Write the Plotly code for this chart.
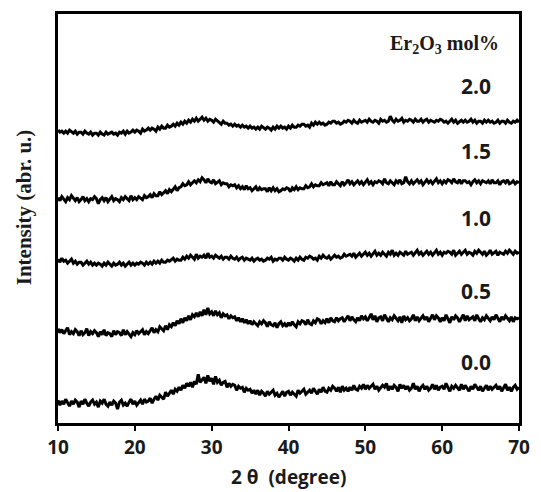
import plotly.graph_objects as go

# 2-theta grid (degrees), 0.25 deg step from 10 to 70
two_theta = [10 + 0.25 * i for i in range(241)]

sample_labels = ["0.0", "0.5", "1.0", "1.5", "2.0"]
stack_offsets = [0, 70, 140, 200, 270]

int_00 = [
    21, 16, 20, 17, 22, 18, 15, 20, 17, 21, 19, 14, 20, 17, 22, 18, 15, 19, 21, 17,
    19, 14, 20, 18, 22, 17, 15, 19, 16, 20, 18, 12, 19, 21, 16, 18, 15, 19, 22, 17,
    20, 16, 19, 21, 17, 22, 19, 20, 23, 18, 22, 25, 21, 26, 24, 22, 29, 25, 28, 31,
    27, 32, 30, 34, 31, 36, 33, 38, 35, 39, 34, 40, 37, 47, 39, 42, 44, 38, 46, 40,
    43, 37, 45, 39, 41, 36, 39, 40, 34, 38, 35, 37, 36, 31, 35, 33, 34, 29, 33, 31,
    32, 28, 31, 27, 31, 26, 30, 28, 25, 30, 27, 29, 31, 26, 28, 24, 27, 30, 25, 29,
    30, 26, 29, 27, 25, 31, 28, 30, 32, 27, 29, 31, 28, 33, 30, 27, 32, 29, 34, 30,
    29, 33, 31, 35, 33, 30, 34, 29, 35, 31, 33, 30, 34, 31, 36, 32, 31, 35, 33, 37,
    32, 36, 33, 35, 37, 32, 35, 31, 33, 36, 34, 38, 31, 35, 32, 36, 34, 30, 37, 33,
    36, 32, 35, 31, 33, 38, 32, 35, 30, 34, 36, 32, 35, 31, 33, 37, 32, 36, 31, 34,
    35, 32, 38, 33, 30, 35, 33, 36, 34, 31, 37, 32, 36, 33, 30, 35, 32, 37, 34, 31,
    35, 30, 33, 36, 31, 35, 32, 34, 36, 32, 35, 30, 33, 37, 31, 34, 30, 34, 36, 32,
    34,
]

int_05 = [
    23, 19, 22, 18, 21, 24, 17, 20, 18, 22, 20, 16, 21, 17, 19, 23, 16, 20, 18, 21,
    19, 15, 20, 17, 22, 16, 19, 18, 15, 21, 17, 20, 19, 16, 22, 17, 20, 18, 15, 19,
    17, 21, 18, 20, 22, 17, 20, 18, 21, 24, 19, 22, 20, 25, 23, 21, 26, 22, 27, 25,
    29, 26, 31, 28, 33, 29, 34, 31, 36, 32, 37, 35, 39, 35, 40, 36, 42, 37, 44, 38,
    40, 36, 41, 37, 39, 34, 38, 36, 37, 33, 36, 34, 35, 31, 34, 30, 33, 29, 32, 28,
    31, 27, 30, 28, 26, 30, 28, 31, 29, 25, 30, 27, 26, 29, 24, 28, 30, 26, 28, 25,
    29, 26, 30, 27, 25, 30, 28, 31, 30, 27, 32, 28, 27, 31, 29, 33, 32, 28, 31, 29,
    33, 29, 34, 31, 30, 34, 31, 33, 34, 30, 33, 36, 31, 35, 32, 30, 34, 31, 36, 33,
    35, 31, 34, 38, 32, 36, 30, 34, 35, 31, 37, 33, 30, 34, 32, 36, 34, 31, 35, 29,
    36, 32, 34, 31, 33, 37, 31, 35, 31, 34, 36, 32, 35, 30, 33, 37, 32, 36, 34, 30,
    34, 31, 37, 33, 29, 35, 32, 36, 34, 30, 33, 37, 31, 36, 32, 34, 35, 31, 37, 33,
    30, 34, 32, 36, 34, 31, 35, 32, 37, 33, 30, 35, 32, 36, 33, 31, 35, 30, 34, 33,
    34,
]

int_10 = [
    23, 20, 24, 21, 22, 19, 21, 23, 19, 21, 18, 20, 20, 17, 19, 21, 18, 20, 17, 19,
    17, 19, 18, 16, 19, 17, 20, 18, 16, 19, 17, 18, 20, 17, 19, 16, 18, 20, 17, 19,
    17, 19, 18, 20, 19, 17, 20, 18, 20, 18, 21, 19, 21, 19, 22, 20, 20, 22, 21, 23,
    24, 21, 23, 22, 22, 25, 23, 26, 24, 27, 25, 23, 28, 24, 26, 25, 27, 24, 29, 25,
    26, 24, 27, 25, 24, 26, 23, 25, 25, 23, 26, 24, 23, 25, 22, 24, 25, 22, 24, 23,
    22, 24, 21, 23, 24, 22, 23, 21, 22, 24, 23, 25, 21, 23, 22, 24, 24, 22, 25, 23,
    22, 24, 23, 21, 24, 22, 25, 23, 22, 25, 24, 26, 25, 23, 24, 22, 26, 24, 27, 25,
    24, 26, 23, 25, 27, 25, 26, 24, 25, 28, 26, 27, 28, 26, 29, 25, 27, 29, 26, 28,
    30, 27, 29, 26, 28, 31, 27, 29, 27, 30, 28, 26, 30, 28, 32, 27, 29, 27, 30, 28,
    27, 31, 28, 29, 30, 27, 29, 32, 28, 30, 27, 29, 31, 28, 30, 27, 29, 32, 28, 30,
    27, 30, 29, 31, 30, 28, 32, 27, 29, 31, 28, 30, 32, 28, 30, 29, 27, 31, 29, 32,
    30, 28, 31, 27, 29, 32, 28, 30, 31, 27, 30, 29, 28, 31, 29, 32, 30, 28, 31, 29,
    30,
]

int_15 = [
    25, 22, 26, 23, 21, 25, 23, 27, 24, 22, 25, 21, 23, 26, 22, 24, 21, 24, 23, 26,
    24, 19, 23, 25, 22, 25, 21, 24, 26, 22, 24, 23, 21, 25, 23, 26, 24, 22, 27, 23,
    25, 23, 26, 24, 23, 27, 25, 26, 28, 25, 29, 27, 27, 31, 28, 30, 32, 29, 33, 31,
    33, 36, 32, 35, 36, 39, 37, 38, 41, 38, 40, 42, 40, 43, 41, 45, 43, 40, 44, 41,
    40, 43, 39, 41, 42, 38, 40, 39, 39, 36, 38, 37, 38, 35, 37, 34, 36, 33, 37, 34,
    35, 32, 34, 36, 32, 35, 33, 34, 34, 31, 35, 32, 35, 32, 34, 31, 32, 34, 33, 35,
    34, 31, 35, 33, 36, 33, 35, 34, 34, 37, 35, 36, 39, 36, 38, 37, 37, 40, 38, 39,
    40, 37, 41, 38, 38, 41, 39, 37, 41, 38, 40, 43, 39, 41, 38, 40, 42, 39, 41, 38,
    40, 43, 39, 41, 38, 41, 40, 42, 41, 39, 44, 40, 39, 42, 40, 38, 42, 40, 43, 39,
    40, 46, 41, 39, 42, 39, 41, 43, 40, 42, 38, 41, 43, 40, 42, 39, 41, 44, 40, 42,
    39, 42, 40, 43, 42, 40, 44, 41, 40, 43, 39, 42, 42, 40, 41, 38, 41, 43, 40, 42,
    39, 42, 41, 40, 42, 39, 43, 40, 40, 42, 38, 41, 42, 40, 43, 39, 40, 42, 39, 41,
    40,
]

int_20 = [
    23, 21, 22, 20, 22, 20, 23, 21, 20, 22, 19, 21, 21, 19, 22, 20, 19, 21, 18, 20,
    20, 18, 21, 19, 18, 21, 19, 20, 21, 19, 20, 18, 21, 20, 22, 19, 22, 20, 21, 23,
    21, 23, 22, 20, 24, 22, 23, 25, 23, 25, 24, 22, 26, 24, 27, 25, 25, 28, 26, 27,
    29, 27, 30, 28, 31, 29, 32, 30, 33, 31, 34, 32, 35, 32, 34, 36, 33, 35, 32, 34,
    33, 31, 34, 32, 31, 29, 32, 30, 30, 28, 29, 27, 29, 27, 28, 26, 28, 26, 27, 25,
    27, 25, 26, 24, 26, 24, 27, 25, 24, 26, 25, 23, 26, 24, 27, 25, 27, 25, 26, 24,
    27, 25, 28, 26, 26, 28, 27, 29, 29, 27, 28, 26, 30, 28, 31, 29, 31, 29, 30, 28,
    29, 31, 30, 32, 32, 30, 31, 29, 30, 32, 31, 33, 32, 30, 33, 31, 30, 33, 31, 32,
    33, 31, 34, 32, 31, 33, 32, 30, 34, 32, 33, 31, 32, 37, 33, 31, 34, 32, 33, 35,
    31, 33, 32, 34, 33, 31, 34, 32, 32, 34, 31, 33, 34, 31, 33, 32, 31, 33, 32, 34,
    33, 31, 32, 30, 32, 34, 31, 33, 30, 32, 33, 31, 33, 31, 32, 34, 31, 33, 30, 32,
    32, 30, 33, 31, 33, 31, 32, 30, 31, 33, 30, 32, 32, 30, 33, 31, 30, 32, 31, 33,
    31,
]

series = [int_00, int_05, int_10, int_15, int_20]

fig = go.Figure()
for vals, off in zip(series, stack_offsets):
    fig.add_trace(go.Scatter(
        x=two_theta, y=[v + off for v in vals], mode="lines",
        line=dict(color="black", width=3.0), showlegend=False, hoverinfo="skip",
    ))

label_y = [59, 131, 205, 272, 337]
sans = "Open Sans"
serif = "Liberation Serif"
ink = "#1a1a1a"
for txt, yy in zip(sample_labels, label_y):
    fig.add_annotation(x=66.6, y=yy, xref="x", yref="y", text=txt,
                       showarrow=False, xanchor="right", yanchor="middle",
                       font=dict(family=sans, size=21, color=ink, weight="bold"))

fig.add_annotation(x=67.6, y=379, xref="x", yref="y",
                   text="Er<sub>2</sub>O<sub>3</sub> mol%",
                   showarrow=False, xanchor="right", yanchor="middle",
                   font=dict(family=serif, size=20, color=ink, weight="bold"))

fig.add_annotation(x=-0.072, y=0.527, xref="paper", yref="paper",
                   text="Intensity (abr. u.)", textangle=-90,
                   showarrow=False, xanchor="center", yanchor="middle",
                   font=dict(family=serif, size=21, color=ink, weight="bold"))

fig.add_annotation(x=0.5, y=-0.132, xref="paper", yref="paper",
                   text="2 θ  (degree)", showarrow=False,
                   xanchor="center", yanchor="middle",
                   font=dict(family=sans, size=19, color=ink, weight="bold"))

fig.update_layout(
    width=541, height=492,
    margin=dict(l=58, r=11, t=11, b=69),
    paper_bgcolor="white", plot_bgcolor="white",
    xaxis=dict(
        range=[10, 70], tickvals=[10, 20, 30, 40, 50, 60, 70],
        showline=True, linecolor="black", linewidth=3, mirror=True,
        ticks="outside", ticklen=5, tickwidth=2, tickcolor="black",
        showgrid=False, zeroline=False,
        tickfont=dict(family=sans, size=19, color=ink, weight="bold"),
    ),
    yaxis=dict(
        range=[-2, 410], showline=True, linecolor="black", linewidth=3, mirror=True,
        showticklabels=False, ticks="", showgrid=False, zeroline=False,
    ),
)

fig.write_html("out.html", config={"displayModeBar": False},
               post_script="document.body.style.margin='0';document.body.style.overflow='hidden';")
